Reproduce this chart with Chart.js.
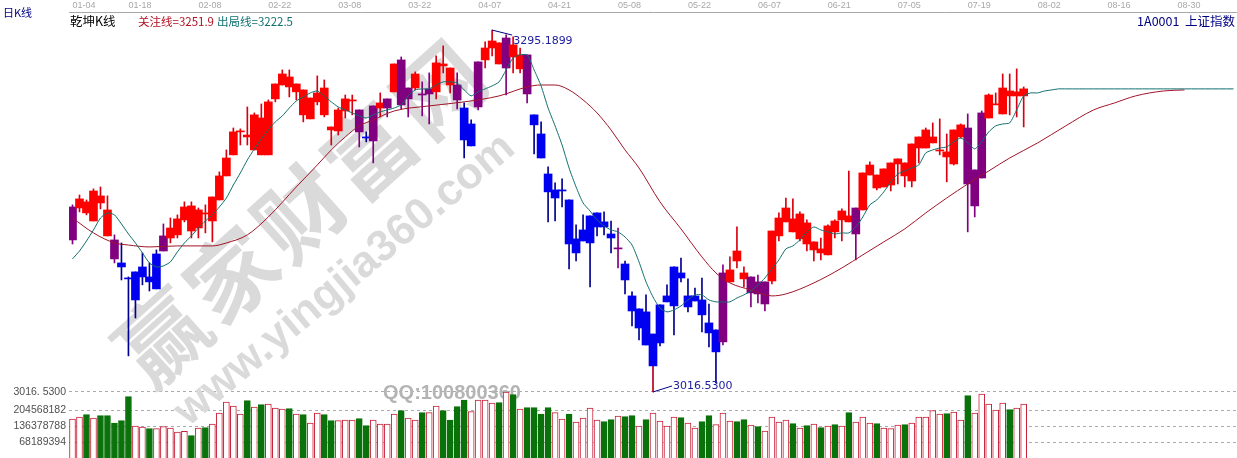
<!DOCTYPE html>
<html>
<head>
<meta charset="utf-8">
<title>乾坤K线</title>
<script src="https://cdn.jsdelivr.net/npm/chart.js@4/dist/chart.umd.min.js"></script>
<style>
  html, body { margin: 0; padding: 0; background: #fff; }
  canvas { display: block; }
</style>
</head>
<body>
<canvas id="klineChart" width="1237" height="458"></canvas>
<script>
// Date ticks on the top axis (slot number and text)
const tickSlots = [0, 8, 18, 28, 38, 48, 58, 68, 78, 88, 98, 108, 118, 128, 138, 148, 158];
const tickDates = ['01-04', '01-18', '02-08', '02-22', '03-08', '03-22', '04-07', '04-21', '05-08', '05-22', '06-07', '06-21', '07-05', '07-19', '08-02', '08-16', '08-30'];
const slotCount = 167;

// Daily candles
const opens = [
  3159.0,3158.2,3154.4,3148.2,3162.1,3136.7,3133.6,3115.9,3104.3,3109.0,
  3112.8,3105.1,3122.8,3136.7,3135.1,3137.5,3149.0,3140.5,3142.8,3153.6,
  3148.2,3164.4,3182.9,3199.1,3216.8,3212.9,3202.9,3199.1,3199.1,3242.2,
  3252.9,3251.4,3247.6,3229.9,3226.8,3239.9,3229.9,3218.3,3217.5,3232.9,
  3240.6,3233.7,3212.9,3236.8,3235.2,3242.2,3247.6,3272.2,3250.6,3250.6,
  3246.0,3249.9,3247.6,3267.6,3252.9,3252.9,3235.2,3222.9,3270.7,3272.2,
  3281.4,3269.1,3289.1,3274.5,3265.3,3276.1,3229.9,3215.2,3184.4,3172.1,
  3172.1,3164.4,3134.4,3141.3,3152.1,3154.4,3147.5,3138.2,3127.4,3115.1,
  3090.5,3080.5,3078.2,3061.2,3083.6,3090.5,3112.8,3108.2,3090.5,3090.5,
  3087.4,3069.7,3064.3,3108.2,3101.3,3117.4,3103.6,3105.1,3101.3,3101.3,
  3102.0,3136.7,3147.5,3139.8,3134.4,3130.5,3125.9,3123.6,3122.1,3139.8,
  3149.0,3147.5,3158.2,3156.7,3183.6,3173.6,3174.4,3175.9,3192.1,3182.9,
  3179.0,3204.4,3204.4,3208.3,3202.1,3197.5,3192.1,3212.9,3219.8,3187.5,
  3231.4,3227.5,3237.6,3230.6,3244.5,3244.5,3244.5
];
const closes = [
  3133.6,3165.2,3162.9,3171.3,3167.5,3156.7,3119.0,3112.8,3103.6,3087.4,
  3105.1,3101.3,3095.9,3125.1,3142.8,3149.8,3159.0,3159.8,3156.7,3154.4,
  3166.7,3182.9,3196.7,3216.8,3217.5,3214.4,3229.9,3227.5,3239.9,3253.7,
  3261.4,3259.1,3253.7,3249.1,3242.9,3246.8,3250.6,3220.6,3233.7,3242.2,
  3241.4,3216.8,3212.1,3209.8,3239.1,3235.2,3269.1,3237.6,3242.2,3261.4,
  3245.2,3246.0,3269.9,3269.1,3266.0,3241.4,3210.6,3206.0,3236.0,3281.4,
  3286.8,3285.3,3266.0,3283.8,3276.1,3246.0,3222.2,3196.7,3170.6,3165.9,
  3171.3,3130.5,3123.6,3132.8,3131.3,3143.6,3143.6,3135.1,3126.7,3102.8,
  3078.9,3065.8,3052.7,3036.6,3054.3,3085.9,3082.8,3104.3,3082.0,3086.6,
  3075.9,3062.0,3047.4,3055.1,3110.5,3125.1,3108.2,3092.8,3092.0,3084.3,
  3140.5,3150.5,3158.2,3149.8,3153.6,3146.7,3132.1,3126.7,3144.4,3148.2,
  3155.9,3152.1,3138.2,3185.2,3191.3,3183.6,3188.3,3192.9,3196.0,3192.9,
  3207.5,3212.9,3218.3,3212.9,3202.9,3201.4,3218.3,3222.2,3176.7,3159.8,
  3181.3,3245.2,3238.3,3250.6,3248.3,3247.6,3249.9
];
const highs = [
  3160.6,3168.2,3164.4,3172.9,3174.4,3167.5,3137.5,3131.3,3105.1,3109.0,
  3123.6,3115.9,3125.9,3145.9,3150.5,3152.9,3162.9,3162.9,3158.2,3160.6,
  3166.7,3186.0,3202.9,3219.8,3219.1,3236.0,3231.4,3238.3,3241.4,3253.7,
  3264.5,3264.5,3253.7,3249.1,3242.9,3259.9,3256.8,3220.6,3235.2,3245.2,
  3245.2,3233.7,3216.8,3236.8,3246.8,3242.2,3269.1,3274.5,3250.6,3263.0,
  3255.3,3262.2,3275.3,3283.0,3266.0,3262.2,3239.1,3226.0,3270.7,3286.1,
  3295.19,3285.3,3291.5,3289.9,3281.4,3276.1,3229.9,3224.5,3189.8,3177.5,
  3180.6,3164.4,3145.2,3152.9,3152.1,3154.4,3155.2,3148.2,3142.8,3117.4,
  3093.6,3080.5,3091.3,3061.2,3083.6,3099.0,3112.8,3119.7,3103.6,3096.6,
  3104.3,3084.3,3064.3,3114.4,3120.5,3143.6,3112.8,3105.1,3106.6,3101.3,
  3140.5,3154.4,3165.9,3165.2,3155.2,3149.0,3132.1,3135.1,3145.2,3149.0,
  3157.5,3186.7,3158.2,3185.2,3193.7,3183.6,3188.3,3192.9,3196.0,3192.9,
  3207.5,3212.9,3219.8,3223.7,3226.8,3215.2,3218.3,3222.9,3230.6,3187.5,
  3232.9,3246.0,3246.8,3261.4,3261.4,3265.3,3251.4
];
const lows = [
  3130.5,3155.2,3152.9,3148.2,3157.5,3136.7,3115.9,3102.8,3044.3,3073.5,
  3099.0,3094.3,3095.9,3125.1,3131.3,3135.1,3147.5,3135.1,3135.1,3139.0,
  3132.1,3164.4,3182.9,3199.1,3206.7,3206.7,3202.9,3199.1,3199.1,3239.9,
  3252.9,3243.7,3241.4,3224.5,3226.8,3237.6,3228.3,3206.7,3214.4,3227.5,
  3229.9,3205.2,3209.1,3192.9,3228.3,3228.3,3247.6,3234.5,3228.3,3249.1,
  3229.1,3222.9,3242.2,3262.2,3246.8,3234.5,3196.7,3206.0,3233.7,3266.0,
  3275.3,3269.1,3245.2,3262.2,3262.2,3239.1,3199.8,3196.7,3147.5,3148.2,
  3159.0,3111.3,3117.4,3132.8,3097.4,3136.7,3137.5,3123.6,3112.0,3092.0,
  3067.4,3056.6,3052.7,3016.53,3052.0,3085.9,3060.4,3101.3,3078.2,3086.6,
  3062.8,3051.2,3023.5,3052.7,3101.3,3112.0,3097.4,3082.0,3085.1,3078.9,
  3099.7,3132.8,3147.5,3139.8,3132.8,3125.1,3117.4,3118.2,3122.1,3135.1,
  3132.8,3147.5,3118.2,3156.7,3183.6,3172.1,3174.4,3171.3,3176.7,3174.4,
  3174.4,3192.9,3204.4,3208.3,3199.1,3178.3,3191.3,3212.1,3139.8,3151.3,
  3181.3,3227.5,3237.6,3230.6,3229.9,3228.3,3220.6
];
// r = red, b = blue, p = purple, x = blue body with a red lower wick
const candleTypes = (
  'prrrrrpbbb' + 'bbbprrrrrr' + 'rrrrrrrrrr' + 'rrrrrrrrrr' + 'rpbprprppr' +
  'pprrrpbbpr' + 'rrprrpbbbb' + 'bbbbbbbbpb' + 'bbbxbbbbbb' + 'bbbprrrppp' +
  'rrrrrrrrrr' + 'rrprrrrrrr' + 'rrrrrrrrpp' + 'prrrrrr'
).split('');

// Volume, in millions, h = hollow red bar, g = solid green bar
const volumesM = [
  166.1,174.7,184.6,170.4,180.3,180.3,149.1,159.0,261.3,136.3,
  132.1,125.0,125.0,133.5,127.8,110.8,113.6,95.1,127.8,129.2,
  144.8,191.7,238.6,221.5,187.4,244.2,217.3,227.2,230.0,213.0,
  208.7,210.2,187.4,184.6,149.1,191.7,184.6,159.0,159.0,161.9,
  161.9,167.6,137.7,161.9,144.8,144.8,187.4,201.6,170.4,161.9,
  193.1,193.1,221.5,201.6,161.9,218.7,247.1,197.4,247.1,247.1,
  234.3,235.7,281.2,269.8,208.7,214.4,214.4,187.4,214.4,193.1,
  166.1,187.4,153.4,170.4,213.0,161.9,154.8,163.3,178.9,176.1,
  180.3,136.3,163.3,191.7,157.6,136.3,174.7,171.8,149.1,127.8,
  154.8,180.3,142.0,191.7,157.6,154.8,163.3,140.6,133.5,115.0,
  174.7,153.4,161.9,146.3,127.8,137.7,144.8,129.2,136.3,142.0,
  136.3,193.1,153.4,174.7,149.1,146.3,127.8,125.0,140.6,142.0,
  149.1,174.7,174.7,201.6,187.4,188.9,196.0,161.9,265.5,191.7,
  272.6,230.0,204.5,234.3,205.9,213.0,230.0
];
const volumeTypes = (
  'hhghgggggh' + 'hghhhhhghg' + 'hhhhhghghh' + 'hghghhgghh' + 'hgghhhhghh' +
  'ghhgggghhh' + 'hghghggggh' + 'hghhhhgghg' + 'ghghhhhghh' + 'gghhhgghgh' +
  'hhhghghghg' + 'hghhhghhhg' + 'hhhhhghhgh' + 'hhhhghh'
).split('');
const volumeTicks = [68189394, 136378788, 204568182];
const lowestPrice = 3016.53;
const highestPrice = 3295.1899;

// 关注线, read at these slots only
const watchSlots = [0,3,6,8,11,15,20,22,25,28,32,35,37,39,41,43,46,51,56,61,65,67,69,71,73,75,77,79,81,84,87,90,92,94,97,100,102,106,110,113,116,119,122,125,128,131,134,138,142,146,149,152,156,159];
const watchValues = [3150.5,3139.0,3131.3,3129.7,3128.2,3129.0,3129.0,3131.3,3137.5,3151.3,3174.4,3191.3,3202.9,3212.9,3221.4,3226.0,3232.9,3236.8,3239.9,3244.5,3251.4,3252.9,3252.9,3249.1,3241.4,3231.4,3218.3,3202.9,3189.0,3162.9,3142.1,3120.5,3108.2,3100.5,3095.1,3090.5,3092.0,3100.5,3112.0,3122.1,3132.1,3142.1,3154.4,3165.9,3176.7,3186.7,3196.7,3208.3,3221.4,3233.7,3239.1,3244.5,3248.3,3249.1];

// 出局线, one value per slot
const exitLine = [
  3119.0,3125.1,3132.8,3141.3,3150.5,3154.4,3152.9,3145.9,3138.2,3131.3,
  3123.6,3115.9,3112.8,3113.6,3116.7,3124.4,3131.3,3136.7,3142.8,3148.2,
  3152.9,3159.0,3165.9,3175.9,3185.2,3195.2,3203.7,3211.4,3218.3,3224.5,
  3229.1,3235.2,3240.6,3243.7,3246.8,3248.3,3244.5,3239.9,3236.0,3233.7,
  3231.4,3229.1,3227.5,3229.9,3232.2,3233.7,3235.2,3237.6,3244.5,3249.1,
  3249.9,3249.9,3252.9,3255.3,3255.3,3254.5,3249.1,3244.5,3247.6,3249.9,
  3252.2,3255.3,3264.5,3273.7,3276.1,3276.1,3264.5,3252.2,3235.2,3221.4,
  3206.7,3189.0,3174.4,3162.1,3155.9,3149.0,3144.4,3141.3,3139.8,3135.9,
  3129.7,3116.7,3101.3,3089.7,3081.2,3078.2,3079.7,3082.8,3087.4,3091.3,
  3091.3,3087.4,3085.9,3085.9,3085.9,3088.9,3091.3,3094.3,3099.0,3104.3,
  3111.3,3118.2,3126.7,3129.0,3133.6,3139.8,3143.6,3141.3,3139.8,3138.2,
  3139.0,3139.0,3143.6,3151.3,3160.6,3164.4,3170.6,3178.3,3184.4,3186.7,
  3189.0,3191.3,3200.6,3202.9,3204.4,3205.2,3209.1,3212.1,3208.3,3203.7,
  3209.1,3216.8,3221.4,3222.9,3223.7,3233.7,3244.5,3246.8,3246.8,3248.3,
  3249.1,3249.9,3249.9,3249.9,3249.9,3249.9,3249.9,3249.9,3249.9,3249.9,
  3249.9,3249.9,3249.9,3249.9,3249.9,3249.9,3249.9,3249.9,3249.9,3249.9,
  3249.9,3249.9,3249.9,3249.9,3249.9,3249.9,3249.9
];

// Build what the chart needs from the arrays above
const labels = [];
for (let i = 0; i < slotCount; i++) labels.push(String(i));

const watchLine = new Array(slotCount).fill(null);
watchSlots.forEach((slot, k) => { watchLine[slot] = watchValues[k]; });

const bodyColors = { r: '#ff0000', b: '#0000f0', p: '#800080', x: '#0000f0' };
const wickColors = { r: '#d80010', b: '#000090', p: '#800080', x: '#b00020' };

const bodies = opens.map((o, i) => [Math.min(o, closes[i]), Math.max(o, closes[i])]);
const wicks = lows.map((l, i) => [l, highs[i]]);

const sansFont = '"Liberation Sans", sans-serif';
const cjkFont = '"Noto Sans CJK SC", sans-serif';

// Watermark sits under the marks
const watermarkPlugin = {
  id: 'watermark',
  afterLayout(chart) {
    // the price axis has no width of its own, its label shares the volume axis gutter
    chart.scales.yPrice.left = 0;
  },
  beforeDatasetsDraw(chart) {
    const ctx = chart.ctx;
    ctx.save();
    ctx.fillStyle = '#dadada';
    ctx.textAlign = 'center';
    ctx.textBaseline = 'middle';
    // big company name, one character at a time down the diagonal
    const name = '赢家财富网';
    ctx.font = 'bold 88px ' + cjkFont;
    for (let i = 0; i < name.length; i++) {
      ctx.save();
      ctx.translate(162 + i * 69, 337 - i * 62);
      ctx.rotate(-42 * Math.PI / 180);
      ctx.fillText(name[i], 0, 0);
      ctx.restore();
    }
    ctx.save();
    ctx.translate(345, 280);
    ctx.rotate(-40 * Math.PI / 180);
    ctx.font = 'bold 44px ' + sansFont;
    ctx.fillText('www.yingjia360.com', 0, 0);
    ctx.restore();
    ctx.fillStyle = '#b4b4b4';
    ctx.font = 'bold 20px ' + sansFont;
    ctx.fillText('QQ:100800360', 452, 393);
    ctx.restore();
  }
};

// Header texts and the high / low notes
const notesPlugin = {
  id: 'notes',
  afterDatasetsDraw(chart) {
    const ctx = chart.ctx;
    const x = chart.scales.x;
    const yp = chart.scales.yPrice;
    ctx.save();
    ctx.textBaseline = 'middle';
    ctx.textAlign = 'left';

    ctx.font = '11px ' + cjkFont;
    ctx.fillStyle = '#000080';
    ctx.fillText('日K线', 3, 13);
    ctx.font = '12.5px ' + cjkFont;
    ctx.fillStyle = '#000000';
    ctx.fillText('乾坤K线', 70, 21);
    ctx.font = '11.5px ' + cjkFont;
    ctx.fillStyle = '#b01020';
    ctx.fillText('关注线=3251.9', 138, 22);
    ctx.fillStyle = '#107070';
    ctx.fillText('出局线=3222.5', 217, 22);
    ctx.font = '12.5px ' + cjkFont;
    ctx.fillStyle = '#000080';
    ctx.textAlign = 'right';
    ctx.fillText('1A0001  上证指数', 1235, 21);

    // connectors from the extreme candles to their notes
    const hiIdx = highs.indexOf(Math.max.apply(null, highs));
    const loIdx = lows.indexOf(Math.min.apply(null, lows));
    const hiX = x.getPixelForValue(hiIdx), hiY = yp.getPixelForValue(highestPrice);
    const loX = x.getPixelForValue(loIdx), loY = yp.getPixelForValue(lowestPrice);
    ctx.strokeStyle = '#000080';
    ctx.lineWidth = 1;
    ctx.beginPath();
    ctx.moveTo(hiX, hiY);
    ctx.lineTo(hiX + 20, hiY + 5);
    ctx.moveTo(loX, loY);
    ctx.lineTo(loX + 19, loY - 6);
    ctx.stroke();

    ctx.textAlign = 'left';
    ctx.font = '11px "DejaVu Sans", sans-serif';
    ctx.fillStyle = '#2020a0';
    ctx.fillText(highestPrice.toFixed(4), hiX + 21, hiY + 11);
    ctx.fillText(lowestPrice.toFixed(4), loX + 20, loY - 6);
    ctx.restore();
  }
};

var ctx = document.getElementById('klineChart').getContext('2d');

var klineChart = new Chart(ctx, {
  type: 'bar',
  data: {
    labels: labels,
    datasets: [
      {
        type: 'line', label: '关注线', yAxisID: 'yPrice', data: watchLine,
        borderColor: '#a01428', borderWidth: 1, pointRadius: 0, spanGaps: true,
        cubicInterpolationMode: 'monotone', order: 1
      },
      {
        type: 'line', label: '出局线', yAxisID: 'yPrice', data: exitLine,
        borderColor: '#0f6e6e', borderWidth: 1, pointRadius: 0, tension: 0.2, order: 0
      },
      {
        label: 'body', yAxisID: 'yPrice', data: bodies, order: 2,
        barThickness: 8, minBarLength: 1, grouped: false,
        backgroundColor: candleTypes.map(t => bodyColors[t])
      },
      {
        label: 'wick', yAxisID: 'yPrice', data: wicks, order: 3,
        barThickness: 1, grouped: false,
        backgroundColor: candleTypes.map(t => wickColors[t])
      },
      {
        label: 'volume', yAxisID: 'yVolume', data: volumesM.map(v => v * 1e6), order: 4,
        barThickness: 6, grouped: false, borderWidth: 1,
        backgroundColor: volumeTypes.map(t => t === 'g' ? '#0a720a' : '#ffffff'),
        borderColor: volumeTypes.map(t => t === 'g' ? '#0a720a' : '#c82038')
      }
    ]
  },
  options: {
    responsive: false,
    animation: false,
    events: [],
    layout: { padding: 0, autoPadding: false },
    plugins: { legend: { display: false }, tooltip: { enabled: false } },
    scales: {
      x: {
        type: 'category',
        position: 'top',
        offset: true,
        grid: { display: false, drawTicks: false },
        border: { display: true, color: '#a8a8a8', width: 1 },
        afterFit: s => { s.height = 12; s.paddingLeft = 0; s.paddingRight = 0; },
        ticks: {
          autoSkip: false,
          maxRotation: 0,
          align: 'start',
          padding: 1,
          color: '#a8a8a8',
          font: { family: sansFont, size: 9 },
          callback: (value, index) => {
            const k = tickSlots.indexOf(index);
            return k >= 0 ? tickDates[k] : null;
          }
        }
      },
      yPrice: {
        position: 'left',
        weight: 0,
        min: 2965.7,
        max: 3309.1,
        afterFit: s => { s.width = 0; s.paddingTop = 0; s.paddingBottom = 0; },
        afterBuildTicks: s => { s.ticks = [{ value: lowestPrice }]; },
        border: { display: false, dash: [3, 3] },
        grid: { drawTicks: false, color: '#ababab', lineWidth: 1 },
        ticks: {
          autoSkip: false,
          padding: 3,
          color: '#505050',
          font: { family: sansFont, size: 10.5 },
          callback: () => '3016. 5300'
        }
      },
      yVolume: {
        position: 'left',
        weight: 1,
        min: 0,
        max: 1900800000,
        afterFit: s => { s.width = 69; s.paddingTop = 0; s.paddingBottom = 0; },
        afterBuildTicks: s => { s.ticks = volumeTicks.map(v => ({ value: v })); },
        border: { display: false, dash: [3, 3] },
        grid: { drawTicks: false, color: '#ababab', lineWidth: 1 },
        ticks: {
          autoSkip: false,
          padding: 3,
          color: '#505050',
          font: { family: sansFont, size: 10.5 },
          callback: value => String(value)
        }
      }
    }
  },
  plugins: [watermarkPlugin, notesPlugin]
});
</script>
</body>
</html>
